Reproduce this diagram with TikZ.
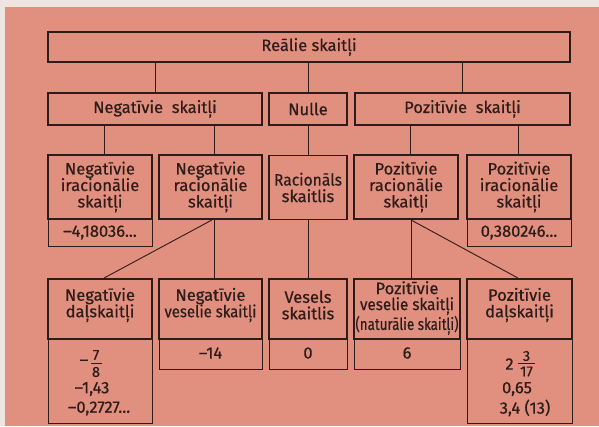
\documentclass[tikz,border=0pt]{standalone}
\usepackage{fontspec}
\setmainfont{Fira Sans}[FakeBold=0.5]
\definecolor{bg}{RGB}{225,143,126}
\definecolor{strip}{RGB}{238,228,224}
\definecolor{ink}{RGB}{45,28,26}
\newcommand\fitw[2]{\resizebox{#1}{\height}{#2}}
\begin{document}
\begin{tikzpicture}[x=1pt,y=-1pt,
  bigbox/.style={draw=ink,line width=1.9pt,inner sep=0pt,align=center,text=ink,font=\fontsize{16.5}{16.5}\selectfont},
  valbox/.style={draw=ink,line width=0.8pt,inner sep=0pt},
  txt/.style={inner sep=0pt,align=center,text=ink,font=\fontsize{16.5}{16.5}\selectfont},
  frtxt/.style={inner sep=0pt,text=ink,font=\fontsize{14.5}{14.5}\selectfont},
  frbar/.style={draw=ink,line width=1pt},
  conn/.style={draw=ink,line width=0.9pt}]
\fill[strip] (0,0) rectangle (599,426);
\fill[bg] (5,7) rectangle (599,426);
\useasboundingbox (0,0) rectangle (599,426);
% level 1
\node[bigbox,minimum width=522pt,minimum height=30pt] (top) at (309,47) {Reālie\ skaitļi};
% level 2
\node[bigbox,minimum width=214pt,minimum height=32pt] (neg) at (155,109) {Negatīvie\ \ skaitļi};
\node[bigbox,minimum width=78pt,minimum height=32pt] (nul) at (308,109) {Nulle};
\node[bigbox,minimum width=215pt,minimum height=32pt] (pos) at (462.5,109) {Pozitīvie\ \ skaitļi};
% level 3
\node[bigbox,minimum width=104pt,minimum height=64pt] (nirr) at (100,187) {Negatīvie\\iracionālie\\skaitļi};
\node[bigbox,minimum width=103pt,minimum height=64pt] (nrac) at (210.5,187) {Negatīvie\\racionālie\\skaitļi};
\node[bigbox,minimum width=78pt,minimum height=64pt] (rac) at (308,187.5) {\fitw{68pt}{Racionāls}\\skaitlis};
\node[bigbox,minimum width=104pt,minimum height=64pt] (prac) at (406,187) {Pozitīvie\\racionālie\\skaitļi};
\node[bigbox,minimum width=104pt,minimum height=64pt] (pirr) at (519,187) {Pozitīvie\\iracionālie\\skaitļi};
\node[valbox,minimum width=104pt,minimum height=27pt] (nirrv) at (100,232.5) {};
\node[valbox,minimum width=104pt,minimum height=27pt] (pirrv) at (519,232.5) {};
\node[txt] (nirrt) at (100,232.5) {–4,18036...};
\node[txt] (pirrt) at (519,232.5) {0,380246...};
% level 4
\node[bigbox,minimum width=104pt,minimum height=60pt] (nfrac) at (100,309) {};
\node[bigbox,minimum width=103pt,minimum height=60pt] (nint) at (210.5,309) {};
\node[bigbox,minimum width=78pt,minimum height=60pt] (zero) at (308,309) {};
\node[bigbox,minimum width=106pt,minimum height=60pt] (pint) at (407,309) {};
\node[bigbox,minimum width=105pt,minimum height=60pt] (pfrac) at (519.5,309) {};
\node[txt] (nfract) at (100,305) {Negatīvie\\daļskaitļi};
\node[txt] (nintt) at (210.5,305) {Negatīvie\\\fitw{92pt}{veselie skaitļi}};
\node[txt] (zerot) at (308,305) {Vesels\\skaitlis};
\node[txt,font=\fontsize{16.5}{16}\selectfont] (pintt) at (407,308) {Pozitīvie\\\fitw{94pt}{veselie skaitļi}\\\fitw{103pt}{(naturālie skaitļi)}};
\node[txt] (pfract) at (519.5,305) {Pozitīvie\\daļskaitļi};
% level 4 values
\node[valbox,minimum width=104pt,minimum height=84pt] (nfracv) at (100,381) {};
\node[valbox,minimum width=103pt,minimum height=30pt] (nintv) at (210.5,354) {};
\node[valbox,minimum width=78pt,minimum height=30pt] (zerov) at (308,354) {};
\node[valbox,minimum width=106pt,minimum height=30pt] (pintv) at (407,354) {};
\node[valbox,minimum width=105pt,minimum height=84pt] (pfracv) at (519.5,381) {};
% -7/8
\node[txt] (f1m) at (84,362.5) {–};
\node[frtxt] (f1n) at (96,355) {7};
\node[frtxt] (f1d) at (96,372) {8};
\draw[frbar] (90.5,363.5) -- (101.5,363.5);
\node[txt] (v1b) at (92,389) {–1,43};
\node[txt] (v1c) at (99,408.5) {–0,2727...};
\node[txt] (v2) at (210.5,353) {–14};
\node[txt] (v3) at (308,353) {0};
\node[txt] (v4) at (407,353) {6};
% 2 3/17
\node[txt] (f2w) at (509.5,364) {2};
\node[frtxt] (f2n) at (526.5,356) {3};
\node[frtxt] (f2d) at (526.5,371.5) {17};
\draw[frbar] (518,363.5) -- (535,363.5);
\node[txt] (v5b) at (517,389) {0,65};
\node[txt] (v5c) at (525,408) {3,4 (13)};
% connector x positions
\coordinate (xa) at (104,0);
\coordinate (xb) at (214,0);
\coordinate (xc) at (410,0);
\coordinate (xd) at (518,0);
\coordinate (xe) at (212,0);
\coordinate (xf) at (411,0);
% connectors
\draw[conn] (top.south -| neg) -- (neg.north);
\draw[conn] (top.south -| nul) -- (nul.north);
\draw[conn] (top.south -| pos) -- (pos.north);
\draw[conn] (neg.south -| xa) -- (nirr.north -| xa);
\draw[conn] (neg.south -| xb) -- (nrac.north -| xb);
\draw[conn] (nul.south) -- (rac.north);
\draw[conn] (pos.south -| xc) -- (prac.north -| xc);
\draw[conn] (pos.south -| xd) -- (pirr.north -| xd);
\draw[conn] (nrac.south -| xe) -- (nfrac.north -| xa);
\draw[conn] (nrac.south -| xb) -- (nint.north -| xb);
\draw[conn] (rac.south) -- (zero.north);
\draw[conn] (prac.south -| xf) -- (pint.north -| xf);
\draw[conn] (prac.south -| xf) -- (pfrac.north -| xd);
\end{tikzpicture}
\end{document}
